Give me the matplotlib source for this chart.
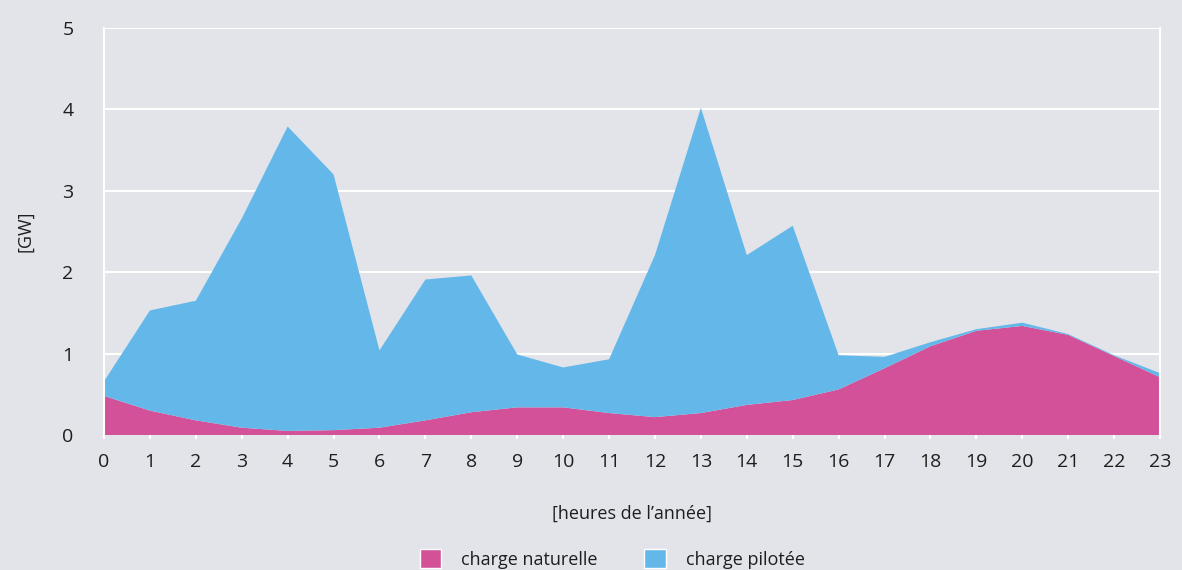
import numpy as np
import matplotlib.pyplot as plt
from matplotlib.patches import Patch

plt.rcParams['font.family'] = ['Open Sans', 'DejaVu Sans']

hours = list(range(24))
# natural load and the controllable load stacked on top of it [GW]
naturelle = [0.48, 0.30, 0.18, 0.09, 0.05, 0.06, 0.09, 0.18, 0.28, 0.34, 0.34, 0.27,
             0.22, 0.27, 0.37, 0.43, 0.56, 0.82, 1.09, 1.28, 1.34, 1.23, 0.97, 0.71]
pilotee = [0.18, 1.23, 1.47, 2.57, 3.74, 3.14, 0.95, 1.73, 1.68, 0.65, 0.49, 0.66,
           1.99, 3.75, 1.84, 2.14, 0.42, 0.14, 0.05, 0.02, 0.04, 0.01, 0.01, 0.05]

PINK = '#d35198'
BLUE = '#64b8e9'
BG = '#e2e4e9'
TXT = '#1e1e1e'

fig = plt.figure(figsize=(11.82, 5.70), dpi=100, facecolor=BG)
ax = fig.add_axes([0.088, 0.2368, 0.8934, 0.7142])
ax.set_facecolor(BG)

ax.set_axisbelow(True)
ax.grid(axis='y', color='white', linewidth=1.5)
ax.stackplot(hours, naturelle, pilotee, colors=[PINK, BLUE], linewidth=0, zorder=2)

ax.set_xlim(0, 23)
ax.set_ylim(0, 5)
ax.set_xticks(hours)
ax.set_yticks(range(6))

for s in ['top', 'bottom']:
    ax.spines[s].set_visible(False)
for s in ['left', 'right']:
    ax.spines[s].set_color('white')
    ax.spines[s].set_linewidth(1.5)
    ax.spines[s].set_zorder(3)

ax.tick_params(axis='x', colors='white', length=3, width=1.5, pad=10,
               labelsize=14, labelcolor=TXT)
ax.tick_params(axis='y', length=0, pad=22, labelsize=14, labelcolor=TXT)

ax.set_ylabel('[GW]', fontsize=13, color=TXT, labelpad=20)
ax.set_xlabel('[heures de l\u2019année]', fontsize=13, color=TXT, labelpad=24)

handles = [Patch(facecolor=PINK, edgecolor='white', linewidth=1),
           Patch(facecolor=BLUE, edgecolor='white', linewidth=1)]
fig.legend(handles, ['charge naturelle', 'charge pilotée'], loc='center',
           bbox_to_anchor=(0.518, 0.02), ncol=2, frameon=False, fontsize=13,
           handlelength=1.2, handleheight=1.3, handletextpad=1.1, columnspacing=2.6,
           labelcolor=TXT)

fig.savefig('out.png', dpi=100, facecolor=BG)
